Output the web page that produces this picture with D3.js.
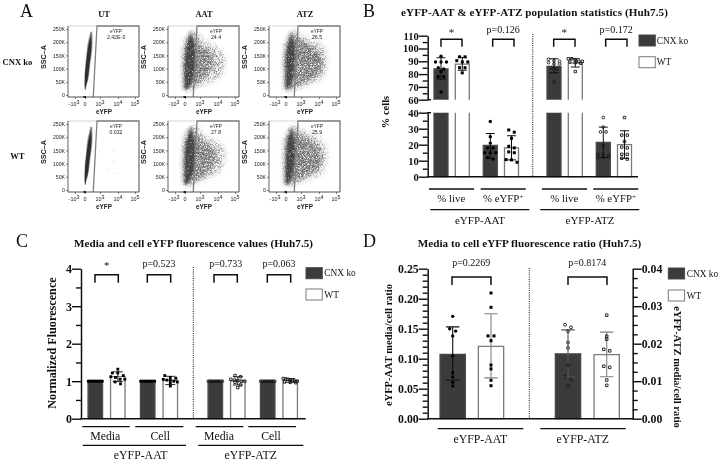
<!DOCTYPE html>
<html><head><meta charset="utf-8">
<script src="https://cdn.jsdelivr.net/npm/d3@7/dist/d3.min.js"></script>
<style>html,body{margin:0;padding:0;background:#fff}svg{display:block}</style>
</head><body><svg id="c" width="720" height="462"></svg>
<script>
// ---------- Panel A values ----------
const flowCols = ["UT","AAT","ATZ"];
const flowRows = ["CNX ko","WT"];
const flowPct = [["2.42E-3","24.4","26.5"],["0.032","27.8","25.9"]];
const sscTicks = [0,50000,100000,150000,200000,250000];
const sscTickLabels = ["0","50K","100K","150K","200K","250K"];
const eyfpTicks = [-1,0,1,2,3];
const eyfpTickLabels = [["-10","3"],["0",""],["10","3"],["10","4"],["10","5"]];
const sscLevels = [20000,40000,60000,80000,100000,120000,140000,160000,180000,200000,220000,240000];
// population outlines in decades of eYFP per SSC level
const utOuterLo=[-.02,-.06,-.06,-.04,-.01,.03,.06,.1,.14,.19,.27,.36];
const utOuterHi=[.03,.13,.22,.28,.32,.36,.41,.46,.49,.5,.5,.48];
const utCoreLo=[0,-.02,-.01,0,.03,.07,.11,.15,.2,.27,.36,.45];
const utCoreHi=[.02,.08,.18,.23,.27,.31,.36,.4,.43,.44,.42,.45];
const aatOuterLo=[-.1,-.2,-.2,-.2,-.25,-.25,-.25,-.2,-.2,-.1,.1,.4];
const aatOuterHi=[.5,1.2,1.9,2.2,2.3,2.4,2.4,2.3,2,1.4,1,.9];
const aatMidLo=[-.05,-.12,-.14,-.15,-.15,-.15,-.12,-.1,-.02,.1,.25,.4];
const aatMidHi=[.2,.7,1.1,1.4,1.65,1.75,1.75,1.55,1.15,.85,.6,.45];
const aatCoreLo=[0,-.03,-.05,-.05,-.05,-.02,0,.03,.08,.15,.3,.4];
const aatCoreHi=[.05,.35,.5,.6,.65,.7,.72,.7,.65,.6,.45,.42];
const aatWtMidHi=[.2,.8,1.25,1.55,1.8,1.9,1.9,1.7,1.3,.9,.6,.45];
const atzOuterHi=[.5,1.4,2.1,2.3,2.4,2.45,2.45,2.4,2.3,1.9,1.2,.8];
const atzMidHi=[.25,.8,1.5,1.95,2.1,2.15,2.1,2,1.75,1.2,.65,.45];
const atzCoreHi=[.05,.3,.42,.5,.55,.58,.6,.6,.58,.52,.42,.4];
const utWtStrayEyfp=[1,1.75,1.5,1.95,1.75];
const utWtStraySsc=[145000,150000,78000,63000,107000];

// ---------- Panel B values ----------
const bCategories=["AAT live ko","AAT live wt","AAT pos ko","AAT pos wt","ATZ live ko","ATZ live wt","ATZ pos ko","ATZ pos wt"];
const bMeans=[84,87.8,19.5,18,86,88.6,21.5,20];
const bErrHigh=[92.8,93,27,25.6,92,92,31,28.7];
const bErrLow=[76,83,11.5,10.5,81,85.5,12,11.5];
const bPoints=[
 [94,89.5,89.5,89.5,85,84,82,78,78,66],
 [93.5,93.5,90.5,89.5,89.5,85,85,81],
 [34.5,25,21,18,18,15,15,15,12,11],
 [29.2,27.8,24,19,18,15.5,15,10.7,10.5,9],
 [91.6,90.5,90,89,88,88,85,84,74],
 [92,92,91,90,90,89.5,89,88.5,82],
 [37,31,28,28,19.5,14,14,13.5,12,12,12],
 [37,26,26,22,18.5,18,14,14,11.5,11]];
const bUpperTicks=[60,70,80,90,100,110];
const bLowerTicks=[0,10,20,30,40];
const bPvals=["*","p=0.126","*","p=0.172"];
const bMeasures=["% live","% eYFP","% live","% eYFP"];
const proteins=["eYFP-AAT","eYFP-ATZ"];
const seriesNames=["CNX ko","WT"];

// ---------- Panel C values ----------
const cMeans=[1,1.12,1,1.02,1,1.01,1,1.02];
const cErrHigh=[1,1.25,1,1.13,1,1.12,1,1.07];
const cErrLow=[1,.99,1,.91,1,.9,1,.97];
const cPoints=[
 [1,1,1,1,1,1,1,1,1],
 [1.32,1.22,1.22,1.15,1.12,1.1,1.05,1.05,.98,.93],
 [1,1,1,1,1,1,1,1,1],
 [1.15,1.1,1.08,1.05,1.03,1.02,1,.98,.95,.87],
 [1,1,1,1,1,1,1,1,1],
 [1.15,1.12,1.05,1.03,1.02,1,1,.97,.9,.83],
 [1,1,1,1,1,1,1,1,1],
 [1.07,1.06,1.05,1.03,1.02,1,1,.98,.97,.96]];
const cTicks=[0,1,2,3,4];
const cPvals=["*","p=0.523","p=0.733","p=0.063"];
const cMeasures=["Media","Cell","Media","Cell"];

// ---------- Panel D values ----------
const dMeans=[.1073,.1207,.0173,.0171];
const dErrHigh=[.153,.175,.0237,.0231];
const dErrLow=[.064,.068,.0111,.0112];
const dPoints=[
 [.1706,.15,.146,.138,.105,.0767,.0695,.0606,.0545],
 [.2095,.1856,.138,.138,.13,.0895,.083,.064,.055],
 [.02507,.02437,.0233,.0203,.0189,.01424,.0112,.0105,.0087],
 [.0276,.022,.0212,.0185,.0181,.014,.0137,.0103,.0089]];
const dLeftTicks=[0,.05,.1,.15,.2,.25];
const dRightTicks=[0,.01,.02,.03,.04];
const dPvals=["p=0.2269","p=0.8174"];

// ---------- drawing ----------
const SERIF='"Liberation Serif",serif', SANS='"Liberation Sans",sans-serif';
const svg=d3.select("#c");
const defs=svg.append("defs");
defs.append("filter").attr("id","soft").attr("x","-20%").attr("y","-20%").attr("width","140%").attr("height","140%")
  .append("feGaussianBlur").attr("stdDeviation",.6);
defs.append("filter").attr("id","ink").attr("x","-2%").attr("y","-2%").attr("width","104%").attr("height","104%")
  .append("feGaussianBlur").attr("stdDeviation",.35);
// stipple texture for the flow populations
function stipple(id,seed,gain,offset,blur,color){
  const f=defs.append("filter").attr("id",id).attr("x","-30%").attr("y","-30%").attr("width","160%").attr("height","160%")
    .attr("color-interpolation-filters","sRGB");
  f.append("feGaussianBlur").attr("in","SourceAlpha").attr("stdDeviation",blur).attr("result","b");
  f.append("feTurbulence").attr("type","fractalNoise").attr("baseFrequency",1.5).attr("numOctaves",1).attr("seed",seed).attr("result","t");
  f.append("feColorMatrix").attr("in","t").attr("type","matrix")
   .attr("values",`0 0 0 0 0 0 0 0 0 0 0 0 0 0 0 ${gain} 0 0 0 ${-offset}`).attr("result","m");
  f.append("feComposite").attr("in","b").attr("in2","m").attr("operator","in").attr("result","d");
  f.append("feFlood").attr("flood-color",color).attr("result","c");
  f.append("feComposite").attr("in","c").attr("in2","d").attr("operator","in");
}
stipple("spOuter",3,3,1.2,2.4,"#777");
stipple("spMid",7,3,.95,2.0,"#666");
stipple("spCore",11,3,.45,1.2,"#444");

const root=svg.append("g").attr("filter","url(#ink)");
root.append("rect").attr("width",720).attr("height",462).attr("fill","#fff");

function text(g,s,x,y,o={}){
  const t=g.append("text").attr("x",x).attr("y",y).text(s)
    .attr("font-family",o.family||SERIF).attr("font-size",o.size||10)
    .attr("font-weight",o.weight||"normal").attr("text-anchor",o.anchor||"middle").attr("fill",o.fill||"#111");
  if(o.spacing)t.attr("letter-spacing",o.spacing);
  if(o.rotate!=null)t.attr("transform",`rotate(${o.rotate} ${x} ${y})`);
  return t;
}
function hline(g,x1,x2,y,w=1.5,c="#111"){g.append("line").attr("x1",x1).attr("x2",x2).attr("y1",y).attr("y2",y).attr("stroke",c).attr("stroke-width",w);}

// panel letters
[["A",20,17],["B",363,17],["C",16,247],["D",363,247]].forEach(d=>text(root,d[0],d[1],d[2],{size:18,anchor:"start"}));

// ---------- Panel A ----------
const flowLeft=d3.scaleOrdinal([0,1,2],[68,168,269]);
const flowTop=d3.scaleOrdinal([0,1],[26,121]);
const popShapes=[
 [{lo:utOuterLo,hi:utOuterHi,f:"#999",flt:"soft"},{lo:utCoreLo,hi:utCoreHi,f:"#2e2e2e",flt:"soft"}],
 [{lo:aatOuterLo,hi:aatOuterHi,flt:"spOuter"},{lo:aatMidLo,hi:aatMidHi,flt:"spMid"},{lo:aatCoreLo,hi:aatCoreHi,flt:"spCore"}],
 [{lo:aatOuterLo,hi:atzOuterHi,flt:"spOuter"},{lo:aatMidLo,hi:atzMidHi,flt:"spMid"},{lo:aatCoreLo,hi:atzCoreHi,flt:"spCore"}]];
const popShapesWt=[
 popShapes[0],
 [{lo:aatOuterLo,hi:aatOuterHi,flt:"spOuter"},{lo:aatMidLo,hi:aatWtMidHi,flt:"spMid"},{lo:aatCoreLo,hi:aatCoreHi,flt:"spCore"}],
 popShapes[2]];
flowRows.forEach((row,r)=>{
  const T=flowTop(r);
  flowCols.forEach((col,c)=>{
    const L=flowLeft(c), g=root.append("g");
    const x=d3.scaleLinear().domain(eyfpTicks).range([L+7,L+17,L+32,L+50,L+67]);
    const y=d3.scaleLinear().domain([0,250000]).range([T+69,T+3]);
    g.append("rect").attr("x",L).attr("y",T).attr("width",71).attr("height",71).attr("fill","#fff").attr("stroke","#ccc").attr("stroke-width",.8);
    const area=d3.area().y((d,i)=>y(sscLevels[i])).curve(d3.curveCatmullRom);
    (r?popShapesWt:popShapes)[c].forEach(p=>{
      g.append("path").datum(p.lo).attr("fill",p.f||"#000").attr("filter",`url(#${p.flt})`)
        .attr("d",area.x0(d=>x(d)).x1((d,i)=>x(p.hi[i])));
    });
    if(r===1&&c===0)g.selectAll("circle.s").data(utWtStrayEyfp).join("circle")
      .attr("cx",d=>x(d)).attr("cy",(d,i)=>y(utWtStraySsc[i])).attr("r",.45).attr("fill","#888");
    // gate
    g.append("path").attr("fill","none").attr("stroke","#808080").attr("stroke-width",1.3)
      .attr("d",`M${x(.55)},${T+71}L${x(.8)},${T}H${L+71}V${T+71}`);
    // axes
    const ax=g.append("g").attr("transform",`translate(${L},0)`)
      .call(d3.axisLeft(y).tickValues(sscTicks).tickFormat((d,i)=>sscTickLabels[i]).tickSize(2).tickPadding(1));
    ax.select(".domain").attr("d",`M0,${T}V${T+71}`).attr("stroke","#444").attr("stroke-width",.7);
    ax.selectAll("line").attr("stroke","#333").attr("stroke-width",.6);
    ax.selectAll("text").attr("font-family",SANS).attr("font-size",5.2).attr("fill","#222");
    const bx=g.append("g").attr("transform",`translate(0,${T+71})`)
      .call(d3.axisBottom(x).tickValues(eyfpTicks).tickFormat("").tickSize(2));
    bx.select(".domain").attr("d",`M${L},0H${L+71}`).attr("stroke","#444").attr("stroke-width",.8);
    bx.selectAll("line").attr("stroke","#333").attr("stroke-width",.6);
    eyfpTicks.forEach((t,i)=>{
      const lab=text(g,eyfpTickLabels[i][0],x(t)-(i===0?1:0),T+80,{family:SANS,size:5.4,fill:"#222"});
      if(eyfpTickLabels[i][1])lab.append("tspan").attr("dy",-2).attr("font-size",5.4).text(eyfpTickLabels[i][1]);
    });
    g.append("line").attr("x1",x(0)-1.5).attr("x2",x(0)+1).attr("y1",T+71).attr("y2",T+71).attr("stroke","#000").attr("stroke-width",1.6);
    text(g,"SSC\u2013A",L-22,T+31,{family:SANS,size:7.2,weight:"bold",rotate:-90,fill:"#222"});
    text(g,"eYFP",L+36,T+88,{family:SANS,size:6.4,weight:"bold",fill:"#222"});
    text(g,"eYFP",L+48,T+7,{family:SANS,size:4.8,fill:"#222"});
    text(g,flowPct[r][c],L+48,T+13,{family:SANS,size:5.2,fill:"#222"});
    if(r===0)text(root,col,L+36,17,{size:8.4,weight:"bold"});
  });
  text(root,row,r?17.3:17.5,r?159:64.5,{size:8.6,weight:"bold"});
});

// ---------- shared bar helpers ----------
function swarm(values,yFn,step,halfWidth){
  const sorted=values.map(v=>({v,py:yFn(v)})).sort((a,b)=>a.py-b.py);
  const out=[];let bin=[];
  const flush=()=>{const k=bin.length,s=k>1?Math.min(step,2*halfWidth/(k-1)):0;
    bin.forEach((p,i)=>{p.dx=(i-(k-1)/2)*s;out.push(p);});bin=[];};
  sorted.forEach(p=>{if(bin.length&&p.py-bin[0].py>2.8)flush();bin.push(p);});flush();
  return out;
}
function drawBar(g,cx,w,yTop,yBot,kind,open){
  const x0=cx-w/2,x1=cx+w/2;
  const d=open==="bottom"?`M${x0},${yBot}V${yTop}H${x1}V${yBot}`:open==="top"?`M${x0},${yTop}V${yBot}H${x1}V${yTop}`:`M${x0},${yBot}V${yTop}H${x1}V${yBot}Z`;
  g.append("path").attr("d",d).attr("fill",kind?"#fff":"#3a3a3a").attr("stroke",kind?"#7a7a7a":"#4a4a4a").attr("stroke-width",1.3);
}
function drawErr(g,cx,yHi,yLo,cap,color,w){
  g.append("path").attr("fill","none").attr("stroke",color).attr("stroke-width",w||1.1)
   .attr("d",`M${cx-cap/2},${yHi}H${cx+cap/2}M${cx},${yHi}V${yLo}M${cx-cap/2},${yLo}H${cx+cap/2}`);
}
const symCircle=d3.symbol().type(d3.symbolCircle), symSquare=d3.symbol().type(d3.symbolSquare);
function drawPts(g,cx,values,yFn,i,size,openSize,step,half){
  return swarm(values,yFn,step,half).forEach(p=>{
    const isWt=i%2===1, isOpen=i>=size.openFrom;
    g.append("path").attr("transform",`translate(${cx+p.dx},${p.py})`)
     .attr("d",(isWt?symSquare:symCircle).size(isOpen?openSize:size.fill)())
     .attr("fill",isOpen?"none":"#000").attr("stroke",isOpen?"#1a1a1a":"none").attr("stroke-width",.9);
  });
}
function bracket(g,x1,x2,yt,yb){g.append("path").attr("fill","none").attr("stroke","#111").attr("stroke-width",1.5).attr("d",`M${x1},${yb}V${yt}H${x2}V${yb}`);}
function legend(g,x,y1,y2,tx,h){
  seriesNames.forEach((n,i)=>{
    const y=i?y2:y1;
    g.append("rect").attr("x",x).attr("y",y).attr("width",16.3).attr("height",h).attr("fill",i?"#fff":"#3a3a3a").attr("stroke",i?"#7a7a7a":"#4a4a4a").attr("stroke-width",1);
    text(g,n,tx,y+h/2+3,{size:9.4,anchor:"start"});
  });
}
function styleAxis(a,size){
  a.selectAll(".domain").attr("stroke","#111").attr("stroke-width",1.5);
  a.selectAll("line").attr("stroke","#111").attr("stroke-width",1.4);
  a.selectAll("text").attr("font-family",SERIF).attr("font-weight","bold").attr("font-size",size).attr("fill","#111");
}
function yAxis(g,xPos,scale,majors,minors,fmt,fs,side="left"){
  const maker=side==="left"?d3.axisLeft:d3.axisRight;
  const a=g.append("g").attr("transform",`translate(${xPos},0)`)
    .call(maker(scale).tickValues(majors).tickFormat(fmt).tickSize(9).tickSizeOuter(0).tickPadding(0));
  styleAxis(a,fs);
  const m=g.append("g").attr("transform",`translate(${xPos},0)`)
    .call(maker(scale).tickValues(minors).tickFormat("").tickSize(5).tickSizeOuter(0));
  styleAxis(m,fs);m.select(".domain").remove();
}
function dotted(g,x,y1,y2){g.append("line").attr("x1",x).attr("x2",x).attr("y1",y1).attr("y2",y2).attr("stroke","#222").attr("stroke-width",1.1).attr("stroke-dasharray","1 1.2");}

// ---------- Panel B ----------
{
 const g=root.append("g");
 const y=d3.scaleLinear().domain([0,40,60,110]).range([176.7,112.7,99.7,35.7]);
 const x=d3.scaleOrdinal(bCategories,[441,462.3,490.3,511.5,554,575.3,603.3,624.5]);
 const yUp=d3.scaleLinear().domain([60,110]).range([99.7,35.7]), yLow=d3.scaleLinear().domain([0,40]).range([176.7,112.7]);
 text(g,"eYFP-AAT & eYFP-ATZ population statistics (Huh7.5)",534.5,15.5,{size:11.1,weight:"bold",spacing:.1});
 bCategories.forEach((c,i)=>{
   const cx=x(c),v=bMeans[i],k=i%2;
   if(v>60){drawBar(g,cx,14,y(v),y(60),k,"bottom");drawBar(g,cx,14,y(40),y(0),k,"top");}
   else drawBar(g,cx,14,y(v),y(0),k);
   drawErr(g,cx,y(bErrHigh[i]),y(bErrLow[i]),9,"#111",1);
   drawPts(g,cx,bPoints[i],y,i,{fill:9,openFrom:4},6,5.5,7);
 });
 yAxis(g,427.7,yUp,bUpperTicks,[65,75,85,95,105],d=>d,10.5);
 yAxis(g,427.7,yLow,bLowerTicks,[5,15,25,35],d=>d,10.5);
 hline(g,427,431,99.7,1.4);hline(g,427,431,112.7,1.4);
 hline(g,427,638,176.7,1.5);
 dotted(g,532.7,34,176.7);
 const tops=[[441,462],[492.7,514],[553.7,575],[605.7,627]];
 tops.forEach((t,i)=>{bracket(g,t[0],t[1],39.3,46.7);
   const isStar=bPvals[i]==="*";
   text(g,bPvals[i],(t[0]+t[1])/2+(i%2?-.2:0),isStar?36:33.3,{size:isStar?11:10});});
 [[429,474],[480.7,525.7],[542,587],[593.3,638.3]].forEach((s,i)=>{
   hline(g,s[0],s[1],189,1.3);
   const lab=text(g,bMeasures[i],(s[0]+s[1])/2+(i%2?0:-.2),202,{size:10.8});
   if(i%2)lab.append("tspan").attr("dy",-3.5).attr("font-size",7).text("+");
 });
 [[430.3,529.3],[540.3,639.3]].forEach((s,i)=>{hline(g,s[0],s[1],209.7,1.3);text(g,proteins[i],i?590:480,224,{size:11});});
 text(g,"% cells",388.5,112,{size:10.5,weight:"bold",rotate:-90});
 legend(g,639,35,56.7,656.7,11);
}

// ---------- Panel C ----------
{
 const g=root.append("g");
 const y=d3.scaleLinear().domain([0,4]).range([418.7,268.7]);
 const x=d3.scaleOrdinal(bCategories,[95.3,117.8,147.7,170.3,215.3,237.8,267.7,290.2]);
 text(g,"Media and cell eYFP fluorescence values (Huh7.5)",193.5,247.3,{size:11.1,weight:"bold",spacing:.05});
 bCategories.forEach((c,i)=>{
   const cx=x(c),k=i%2;
   drawBar(g,cx,14.5,y(cMeans[i]),y(0),k);
   drawErr(g,cx,y(cErrHigh[i]),y(cErrLow[i]),10,"#111",.9);
   drawPts(g,cx,cPoints[i],y,i,{fill:8,openFrom:4},6,5.5,7);
 });
 yAxis(g,81,y,cTicks,[.5,1.5,2.5,3.5],d=>d,12);
 hline(g,80,305.7,418.7,1.5);
 dotted(g,193.3,267,418.7);
 [[95,118.3],[147.3,170.7],[214,237.3],[267.3,290.7]].forEach((t,i)=>{bracket(g,t[0],t[1],274.7,282.7);
   const isStar=cPvals[i]==="*";
   text(g,cPvals[i],i?[0,159,225.7,279][i]:106.7,isStar?269:266.7,{size:isStar?11:10});});
 [[82.3,129.7],[135.3,183.3],[195.7,243.3],[248.3,296]].forEach((s,i)=>{hline(g,s[0],s[1],426.7,1.3);text(g,cMeasures[i],[105.3,160.3,219,271][i],439.7,{size:11.8});});
 [[82.7,186],[198.3,303.3]].forEach((s,i)=>{hline(g,s[0],s[1],445.3,1.3);text(g,proteins[i],i?250.7:140.7,459.3,{size:11.8});});
 text(g,"Normalized Fluorescence",56,343,{size:12.2,weight:"bold",rotate:-90});
 legend(g,306,267.7,289,324.3,11);
}

// ---------- Panel D ----------
{
 const g=root.append("g");
 const yL=d3.scaleLinear().domain([0,.25]).range([418.7,268.7]);
 const yR=d3.scaleLinear().domain([0,.04]).range([418.7,268.7]);
 const x=d3.scaleOrdinal([0,1,2,3],[452.7,491,568,606.7]);
 text(g,"Media to cell eYFP fluorescence ratio (Huh7.5)",529.5,246.7,{size:11.1,weight:"bold",spacing:.05});
 dMeans.forEach((v,i)=>{
   const cx=x(i),k=i%2,yy=i<2?yL:yR;
   drawBar(g,cx,25.3,yy(v),yy(0),k);
   drawErr(g,cx,yy(dErrHigh[i]),yy(dErrLow[i]),13.3,["#111","#808080","#555","#808080"][i],1.1);
   drawPts(g,cx,dPoints[i],yy,i,{fill:9,openFrom:2},6.5,6,7);
 });
 const fmt2=d3.format(".2f");
 const minorL=d3.range(0,.2501,.01).map(d=>+d.toFixed(2)).filter(d=>Math.round(d*100)%5!==0);
 const minorR=d3.range(0,.0401,.0025).map(d=>+d.toFixed(4)).filter(d=>Math.round(d*10000)%100!==0);
 yAxis(g,427.7,yL,dLeftTicks,minorL,fmt2,11.8);
 yAxis(g,632.7,yR,dRightTicks,minorR,fmt2,11.8,"right");
 hline(g,427,633,418.7,1.5);
 dotted(g,529.3,268,418.7);
 [[452,491],[568,607]].forEach((t,i)=>{bracket(g,t[0],t[1],277,285);
   text(g,dPvals[i],i?587.3:471.3,265.7,{size:10});});
 [[437.7,523.3],[540.3,625.7]].forEach((s,i)=>{hline(g,s[0],s[1],428.7,1.3);text(g,proteins[i],i?582.7:480.3,443,{size:11.8});});
 text(g,"eYFP-AAT media/cell ratio",392,345,{size:10.5,weight:"bold",rotate:-90});
 text(g,"eYFP-ATZ media/cell ratio",674,367,{size:10.5,weight:"bold",rotate:90});
 legend(g,668.3,268,290,686.7,11);
}
</script></body></html>
